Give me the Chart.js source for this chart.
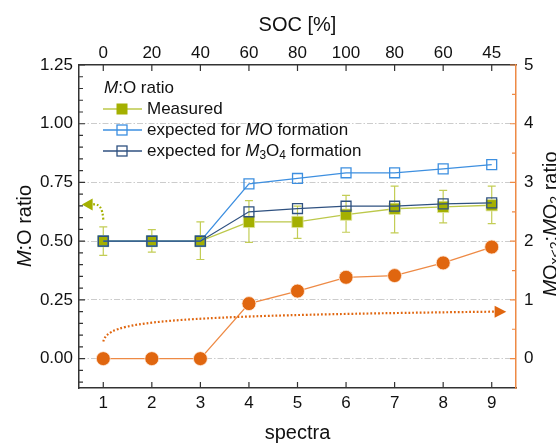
<!DOCTYPE html>
<html>
<head>
<meta charset="utf-8">
<script src="https://cdn.jsdelivr.net/npm/chart.js@4.4.0/dist/chart.umd.min.js"></script>
<style>
  html, body { margin: 0; padding: 0; background: #fff; }
  #wrap { width: 556px; height: 443px; position: relative; }
</style>
</head>
<body>
<div id="wrap"><canvas id="chart"></canvas></div>
<script>
  // data
  const spectra = [1, 2, 3, 4, 5, 6, 7, 8, 9];
  const socLabels = ["0", "20", "40", "60", "80", "100", "80", "60", "45"];
  const measured = [0.5, 0.5, 0.5, 0.582, 0.582, 0.613, 0.638, 0.646, 0.653];
  const measuredLow = [0.44, 0.453, 0.422, 0.495, 0.512, 0.538, 0.535, 0.578, 0.575];
  const measuredHigh = [0.561, 0.549, 0.582, 0.673, 0.649, 0.695, 0.734, 0.716, 0.734];
  const expectedMO = [0.5, 0.5, 0.5, 0.744, 0.767, 0.791, 0.791, 0.808, 0.826];
  const expectedM3O4 = [0.5, 0.5, 0.5, 0.625, 0.639, 0.649, 0.649, 0.659, 0.663];
  const moRatio = [0, 0, 0, 0.937, 1.15, 1.385, 1.414, 1.63, 1.9];
  const leftTicks = [0, 0.25, 0.5, 0.75, 1.0, 1.25];
  const rightTicks = [0, 1, 2, 3, 4, 5];

  // dotted guide arrows (x in spectra, y in axis units)
  const greenArrow = [[1.0, 0.592], [0.98, 0.665], [0.78, 0.656], [0.56, 0.656]];
  const orangeArrow = [[1.0, 0.29], [1.1, 0.63], [1.99, 0.73], [9.06, 0.80], [9.3, 0.80]];

  const FONT = '"Liberation Sans", Arial, sans-serif';
  const cOlive = "#a4b000";
  const cOliveLine = "#bcc84a";
  const cBlue = "#3d8fe0";
  const cNavy = "#2f5180";
  const cOrange = "#e0660f";
  const cOrangeLine = "#ee8a45";
  const cAxis = "#333";

  function pts(arr) {
    return spectra.map((x, i) => ({ x: x, y: arr[i] }));
  }

  function drawRich(ctx, parts, x, y, size) {
    let cx = x;
    parts.forEach(p => {
      const fs = p.sub ? size * 0.7 : size;
      ctx.font = (p.it ? "italic " : "") + fs + "px " + FONT;
      ctx.fillText(p.t, cx, y + (p.sub ? size * 0.25 : 0));
      cx += ctx.measureText(p.t).width;
    });
    return cx - x;
  }
  function richWidth(ctx, parts, size) {
    let w = 0;
    parts.forEach(p => {
      const fs = p.sub ? size * 0.7 : size;
      ctx.font = (p.it ? "italic " : "") + fs + "px " + FONT;
      w += ctx.measureText(p.t).width;
    });
    return w;
  }

  const decor = {
    id: "decor",
    beforeDatasetsDraw(chart) {
      const ctx = chart.ctx;
      const xs = chart.scales.x, ys = chart.scales.y;
      ctx.save();
      ctx.strokeStyle = "#c3cd55";
      ctx.lineWidth = 1.2;
      spectra.forEach((v, i) => {
        const x = xs.getPixelForValue(v);
        const y1 = ys.getPixelForValue(measuredLow[i]);
        const y2 = ys.getPixelForValue(measuredHigh[i]);
        ctx.beginPath();
        ctx.moveTo(x, y1); ctx.lineTo(x, y2);
        ctx.moveTo(x - 4, y1); ctx.lineTo(x + 4, y1);
        ctx.moveTo(x - 4, y2); ctx.lineTo(x + 4, y2);
        ctx.stroke();
      });
      ctx.restore();
    },
    afterDraw(chart) {
      const ctx = chart.ctx;
      const a = chart.chartArea;
      const xs = chart.scales.x, ys = chart.scales.y, y2s = chart.scales.y2;
      ctx.save();

      // inward tick marks
      ctx.lineWidth = 1.2;
      ctx.strokeStyle = cAxis;
      ctx.beginPath();
      spectra.forEach(v => {
        const x = xs.getPixelForValue(v);
        ctx.moveTo(x, a.bottom); ctx.lineTo(x, a.bottom - 6);
        ctx.moveTo(x, a.top); ctx.lineTo(x, a.top + 6);
      });
      for (let v = -0.1; v <= 1.2501; v += 0.05) {
        const y = ys.getPixelForValue(v);
        const major = Math.abs(Math.round(v / 0.25) * 0.25 - v) < 1e-6;
        ctx.moveTo(a.left, y); ctx.lineTo(a.left + (major ? 6 : 4), y);
      }
      ctx.stroke();
      ctx.strokeStyle = cOrangeLine;
      ctx.beginPath();
      for (let v = 0; v <= 5; v += 0.5) {
        const y = y2s.getPixelForValue(v);
        ctx.moveTo(a.right, y); ctx.lineTo(a.right - (v % 1 === 0 ? 6 : 4), y);
      }
      ctx.stroke();

      // dotted arrows
      ctx.lineWidth = 2.2;
      ctx.setLineDash([1.8, 2]);
      const gp = greenArrow.map(p => [xs.getPixelForValue(p[0]), ys.getPixelForValue(p[1])]);
      ctx.strokeStyle = cOlive;
      ctx.beginPath();
      ctx.moveTo(gp[0][0], gp[0][1]);
      ctx.quadraticCurveTo(gp[1][0], gp[1][1], gp[2][0], gp[2][1]);
      ctx.stroke();
      const op = orangeArrow.map(p => [xs.getPixelForValue(p[0]), y2s.getPixelForValue(p[1])]);
      ctx.strokeStyle = cOrange;
      ctx.beginPath();
      ctx.moveTo(op[0][0], op[0][1]);
      ctx.bezierCurveTo(op[1][0], op[1][1], op[2][0], op[2][1], op[3][0], op[3][1]);
      ctx.stroke();
      ctx.setLineDash([]);
      ctx.fillStyle = cOlive;
      ctx.beginPath();
      ctx.moveTo(gp[3][0], gp[3][1]);
      ctx.lineTo(gp[2][0], gp[2][1] - 6);
      ctx.lineTo(gp[2][0], gp[2][1] + 6);
      ctx.closePath();
      ctx.fill();
      ctx.fillStyle = cOrange;
      ctx.beginPath();
      ctx.moveTo(op[4][0], op[4][1]);
      ctx.lineTo(op[3][0], op[3][1] - 6);
      ctx.lineTo(op[3][0], op[3][1] + 6);
      ctx.closePath();
      ctx.fill();

      // legend
      ctx.fillStyle = "#111";
      ctx.textBaseline = "middle";
      drawRich(ctx, [{ t: "M", it: 1 }, { t: ":O ratio" }], 104, 88, 17);
      const entries = [
        { y: 109, color: cOliveLine, mark: cOlive, fill: true, parts: [{ t: "Measured" }] },
        { y: 130, color: cBlue, mark: cBlue, fill: false, parts: [{ t: "expected for " }, { t: "M", it: 1 }, { t: "O formation" }] },
        { y: 151, color: cNavy, mark: cNavy, fill: false, parts: [{ t: "expected for " }, { t: "M", it: 1 }, { t: "3", sub: 1 }, { t: "O" }, { t: "4", sub: 1 }, { t: " formation" }] }
      ];
      entries.forEach(e => {
        ctx.strokeStyle = e.color;
        ctx.lineWidth = 1.3;
        ctx.beginPath();
        ctx.moveTo(103, e.y); ctx.lineTo(142, e.y);
        ctx.stroke();
        if (e.fill) {
          ctx.fillStyle = e.mark;
          ctx.fillRect(116.5, e.y - 5.5, 11, 11);
        } else {
          ctx.strokeStyle = e.mark;
          ctx.strokeRect(117, e.y - 5, 10, 10);
        }
        ctx.fillStyle = "#111";
        drawRich(ctx, e.parts, 147, e.y, 17);
      });

      // axis titles
      ctx.font = "20px " + FONT;
      ctx.textAlign = "center";
      ctx.fillText("SOC [%]", (a.left + a.right) / 2, 25);
      ctx.fillText("spectra", (a.left + a.right) / 2, 433);
      ctx.textAlign = "left";

      const leftT = [{ t: "M", it: 1 }, { t: ":O ratio" }];
      let w = richWidth(ctx, leftT, 20);
      ctx.save();
      ctx.translate(25, 226);
      ctx.rotate(-Math.PI / 2);
      drawRich(ctx, leftT, -w / 2, 0, 20);
      ctx.restore();

      const rightT = [{ t: "M", it: 1 }, { t: "O" }, { t: "x<2", sub: 1 }, { t: ":" }, { t: "M", it: 1 }, { t: "O" }, { t: "2", sub: 1 }, { t: " ratio" }];
      w = richWidth(ctx, rightT, 20);
      ctx.save();
      ctx.translate(551, 224);
      ctx.rotate(-Math.PI / 2);
      drawRich(ctx, rightT, -w / 2, 0, 20);
      ctx.restore();

      ctx.restore();
    }
  };

  const tickFont = { family: FONT, size: 17 };

  new Chart(document.getElementById("chart"), {
    type: "line",
    data: {
      datasets: [
        {
          label: "MOx<2:MO2",
          data: pts(moRatio),
          xAxisID: "x",
          yAxisID: "y2",
          borderColor: cOrangeLine,
          borderWidth: 1.3,
          backgroundColor: cOrange,
          pointStyle: "circle",
          pointRadius: 7,
          pointBorderColor: "rgba(255,235,220,0.8)",
          pointBorderWidth: 1,
          order: 3
        },
        {
          label: "Measured",
          data: pts(measured),
          xAxisID: "x",
          yAxisID: "y",
          borderColor: cOliveLine,
          borderWidth: 1.3,
          backgroundColor: cOlive,
          pointStyle: "rect",
          pointRadius: 8,
          pointBorderColor: "rgba(225,230,160,0.8)",
          pointBorderWidth: 1,
          order: 2
        },
        {
          label: "expected for MO formation",
          data: pts(expectedMO),
          xAxisID: "x",
          yAxisID: "y",
          borderColor: cBlue,
          borderWidth: 1.3,
          backgroundColor: "rgba(0,0,0,0)",
          pointStyle: "rect",
          pointRadius: 7,
          pointBorderColor: cBlue,
          pointBorderWidth: 1.3,
          order: 1
        },
        {
          label: "expected for M3O4 formation",
          data: pts(expectedM3O4),
          xAxisID: "x",
          yAxisID: "y",
          borderColor: cNavy,
          borderWidth: 1.3,
          backgroundColor: "rgba(0,0,0,0)",
          pointStyle: "rect",
          pointRadius: 7,
          pointBorderColor: cNavy,
          pointBorderWidth: 1.3,
          order: 0
        }
      ]
    },
    options: {
      responsive: true,
      maintainAspectRatio: false,
      animation: false,
      layout: { padding: 0 },
      plugins: {
        legend: { display: false },
        tooltip: { enabled: false }
      },
      scales: {
        x: {
          type: "linear",
          position: "bottom",
          min: 0.5,
          max: 9.5,
          afterBuildTicks: s => { s.ticks = spectra.map(v => ({ value: v })); },
          afterFit: s => { s.height = 55; },
          ticks: { font: tickFont, color: "#111", padding: 5, maxRotation: 0, callback: v => String(v) },
          grid: { display: false, drawTicks: false },
          border: { color: cAxis, width: 1.5 }
        },
        x2: {
          type: "linear",
          position: "top",
          min: 0.5,
          max: 9.5,
          afterBuildTicks: s => { s.ticks = spectra.map(v => ({ value: v })); },
          afterFit: s => { s.height = 65; },
          ticks: { font: tickFont, color: "#111", padding: 1, maxRotation: 0, callback: v => socLabels[v - 1] },
          grid: { display: false, drawTicks: false },
          border: { color: cAxis, width: 1.5 }
        },
        y: {
          type: "linear",
          position: "left",
          min: -0.125,
          max: 1.25,
          afterBuildTicks: s => { s.ticks = leftTicks.map(v => ({ value: v })); },
          afterFit: s => { s.width = 79; },
          ticks: { font: tickFont, color: "#111", padding: 6, callback: v => v.toFixed(2) },
          grid: {
            drawTicks: false,
            lineWidth: 1,
            color: c => (c.tick && c.tick.value > 1.2 ? "rgba(0,0,0,0)" : "#cccccc")
          },
          border: { color: cAxis, width: 1.5, dash: [6, 2, 1.5, 2] }
        },
        y2: {
          type: "linear",
          position: "right",
          min: -0.5,
          max: 5,
          afterBuildTicks: s => { s.ticks = rightTicks.map(v => ({ value: v })); },
          afterFit: s => { s.width = 40; },
          ticks: { font: tickFont, color: "#111", padding: 8, callback: v => String(v) },
          grid: { drawOnChartArea: false, drawTicks: false },
          border: { color: cOrangeLine, width: 1.5 }
        }
      }
    },
    plugins: [decor]
  });
</script>
</body>
</html>
